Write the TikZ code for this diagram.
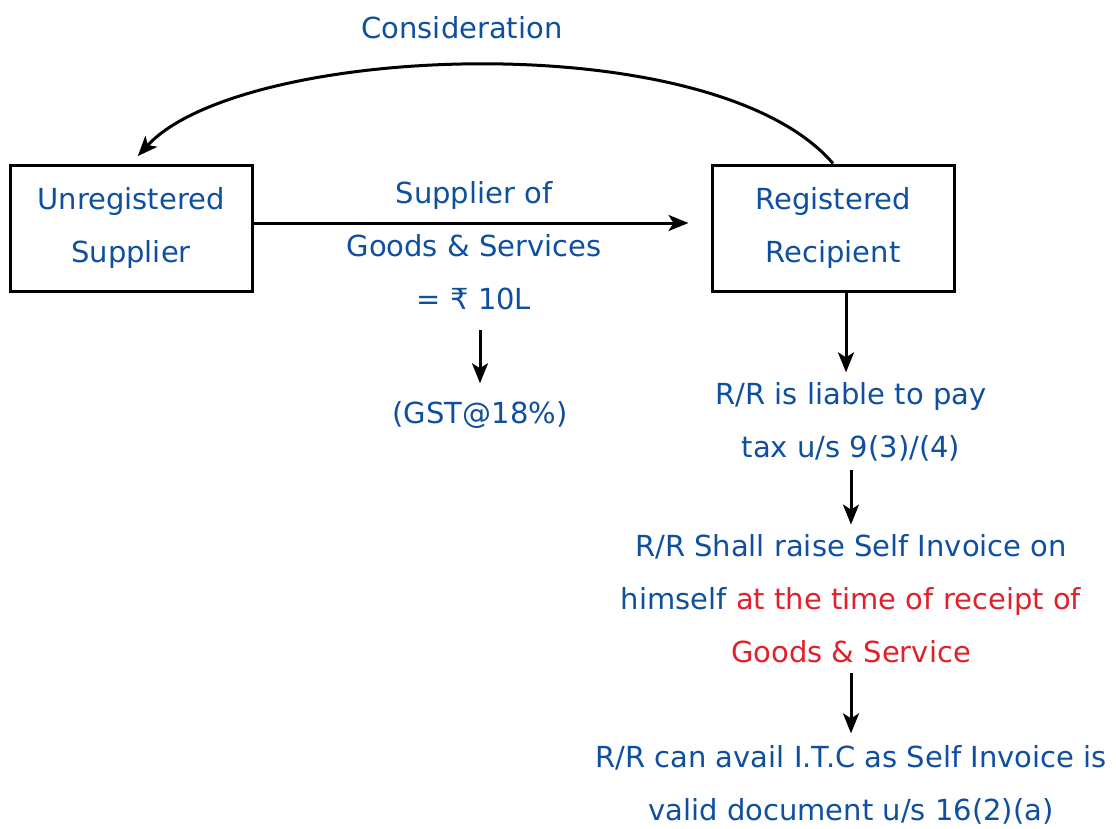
\documentclass[tikz,border=0pt]{standalone}
\usepackage{fontspec}
\setmainfont{DejaVu Sans}
\usetikzlibrary{arrows.meta,positioning}
\definecolor{textblue}{HTML}{0E4FA0}
\definecolor{textred}{HTML}{E0202A}
\definecolor{ink}{HTML}{000000}
\tikzset{
  party/.style={
    draw=ink,
    line width=3pt,
    minimum width=242pt,
    minimum height=126pt,
    align=center,
    text=textblue,
    inner sep=0pt
  },
  note/.style={
    align=center,
    text=textblue,
    inner sep=0pt
  },
  arrow/.style={
    -{Stealth[length=20pt,width=16pt,inset=5pt]},
    draw=ink,
    line width=3pt
  }
}
\newcommand{\hl}[1]{\textcolor{textred}{#1}}

\begin{document}
\begin{tikzpicture}[x=1pt,y=-1pt,
  font=\fontsize{29}{53}\selectfont]
\useasboundingbox (0,0) rectangle (1116,828);

% ---------------------------------------------------------------
% 1. Parties
% ---------------------------------------------------------------
\node[party] (unreg) at (131,228) {Unregistered\\Supplier};
\node[party] (reg) at (833,228) {Registered\\Recipient};

% ---------------------------------------------------------------
% 2. Supply and consideration
% ---------------------------------------------------------------
\node[note] (supply) at (474,246) {Supplier of\\Goods \& Services\\= ₹ 10L};
\node[note] (gst) at (480,415) {(GST@18\%)};
\node[note] (consid) at (462,28) {Consideration};

\draw[arrow, shorten >=22pt] (unreg.east |- 0,223) -- (reg.west |- 0,223);
\draw[arrow, shorten <=20pt, shorten >=18pt] (supply.south -| gst) -- (gst.north);
\draw[arrow, shorten >=10pt] (reg.north) .. controls +(-120,-140) and +(110,-120) .. (unreg.north);

% ---------------------------------------------------------------
% 3. Reverse charge steps
% ---------------------------------------------------------------
\node[note] (liable) at (851,422) {R/R is liable to pay\\tax u/s 9(3)/(4)};
\node[note] (selfinv) at (851,599) {R/R Shall raise Self Invoice on\\himself \hl{at the time of receipt of}\\\hl{Goods \& Service}};
\node[note] (itc) at (851,785) {R/R can avail I.T.C as Self Invoice is\\valid document u/s 16(2)(a)};

\draw[arrow, shorten >=10pt] ([xshift=13pt]reg.south) -- ([xshift=13pt]reg.south |- liable.north);
\draw[arrow, shorten <=8pt, shorten >=10pt] (liable.south) -- (selfinv.north);
\draw[arrow, shorten <=10pt, shorten >=12pt] (selfinv.south) -- (itc.north);

\end{tikzpicture}
\end{document}
